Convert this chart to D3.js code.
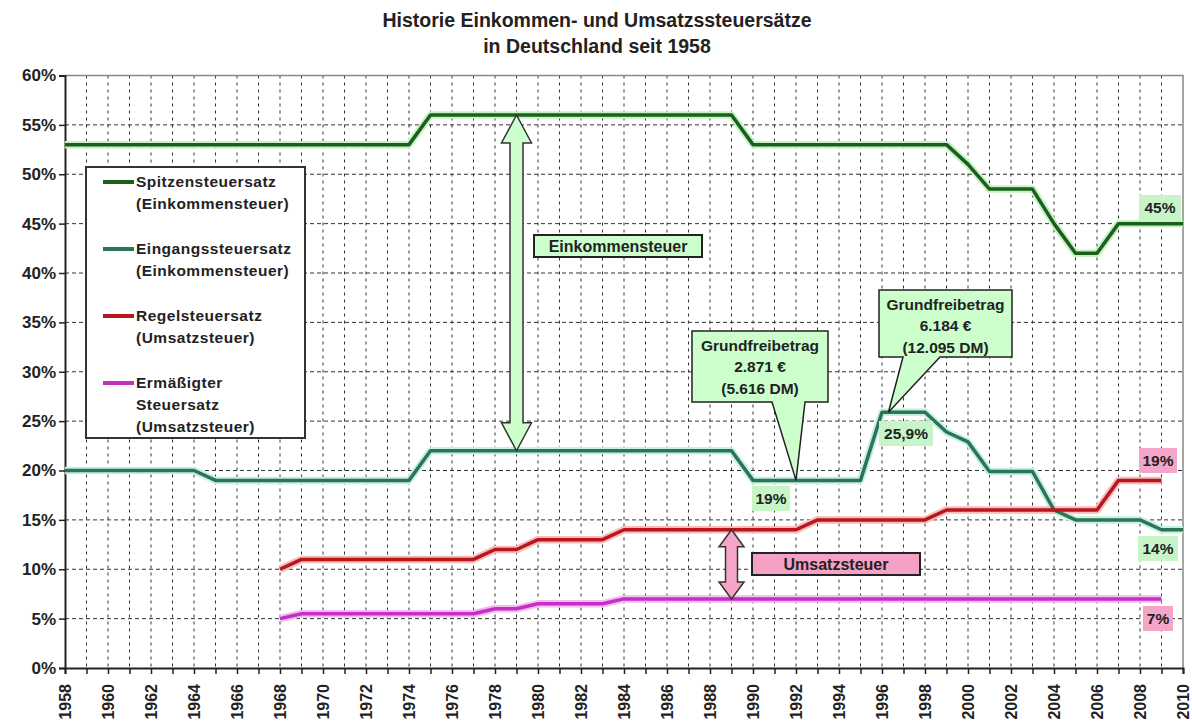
<!DOCTYPE html>
<html>
<head>
<meta charset="utf-8">
<script src="https://cdn.jsdelivr.net/npm/d3@7"></script>
<style>
  body { margin: 0; background: #fff; }
  svg { display: block; font-family: "Liberation Sans", Arial, sans-serif; }
</style>
</head>
<body>
<svg id="chart" width="1192" height="724"></svg>
<script>
// years 1958..2010
var years = [1958,1959,1960,1961,1962,1963,1964,1965,1966,1967,
             1968,1969,1970,1971,1972,1973,1974,1975,1976,1977,
             1978,1979,1980,1981,1982,1983,1984,1985,1986,1987,
             1988,1989,1990,1991,1992,1993,1994,1995,1996,1997,
             1998,1999,2000,2001,2002,2003,2004,2005,2006,2007,
             2008,2009,2010];

var spitzen = [53,53,53,53,53,53,53,53,53,53,
               53,53,53,53,53,53,53,56,56,56,
               56,56,56,56,56,56,56,56,56,56,
               56,56,53,53,53,53,53,53,53,53,
               53,53,51,48.5,48.5,48.5,45,42,42,45,
               45,45,45];

var eingang = [20,20,20,20,20,20,20,19,19,19,
               19,19,19,19,19,19,19,22,22,22,
               22,22,22,22,22,22,22,22,22,22,
               22,22,19,19,19,19,19,19,25.9,25.9,
               25.9,23.9,22.9,19.9,19.9,19.9,16,15,15,15,
               15,14,14];

var regel = [null,null,null,null,null,null,null,null,null,null,
             10,11,11,11,11,11,11,11,11,11,
             12,12,13,13,13,13,14,14,14,14,
             14,14,14,14,14,15,15,15,15,15,
             15,16,16,16,16,16,16,16,16,19,
             19,19,null];

var ermaessigt = [null,null,null,null,null,null,null,null,null,null,
                  5,5.5,5.5,5.5,5.5,5.5,5.5,5.5,5.5,5.5,
                  6,6,6.5,6.5,6.5,6.5,7,7,7,7,
                  7,7,7,7,7,7,7,7,7,7,
                  7,7,7,7,7,7,7,7,7,7,
                  7,7,null];

var yTicks = [0,5,10,15,20,25,30,35,40,45,50,55,60];

var seriesNames = [
  ["Spitzensteuersatz", "(Einkommensteuer)"],
  ["Eingangssteuersatz", "(Einkommensteuer)"],
  ["Regelsteuersatz", "(Umsatzsteuer)"],
  ["Ermäßigter", "Steuersatz", "(Umsatzsteuer)"]
];
var seriesColors = ["#1c5e1c", "#2d7356", "#b8161c", "#c42fc4"];
var glowColors   = ["#c4f2c4", "#c4f2e0", "#f6bcbc", "#f2bcf2"];

var svg = d3.select("#chart");
var plotL = 65, plotR = 1183, plotT = 75.5, plotB = 668;

var x = d3.scaleLinear().domain([1958, 2010]).range([plotL, plotR]);
var y = d3.scaleLinear().domain([0, 60]).range([plotB, plotT]);

// title
svg.append("text").attr("x", 597).attr("y", 27).attr("text-anchor", "middle")
  .style("font-size", "19.5px").style("font-weight", "bold").attr("fill", "#222")
  .text("Historie Einkommen- und Umsatzssteuersätze");
svg.append("text").attr("x", 597).attr("y", 53).attr("text-anchor", "middle")
  .style("font-size", "19.5px").style("font-weight", "bold").attr("fill", "#222")
  .text("in Deutschland seit 1958");

// grid
var grid = svg.append("g");
grid.selectAll(".vg").data(years.slice(1, -1)).enter().append("line")
  .attr("x1", function(d){ return x(d); }).attr("x2", function(d){ return x(d); })
  .attr("y1", plotT).attr("y2", plotB)
  .attr("stroke", "#333").attr("stroke-width", 1).attr("stroke-dasharray", "3,4");
grid.selectAll(".hg").data(yTicks.slice(1, -1)).enter().append("line")
  .attr("x1", plotL).attr("x2", plotR)
  .attr("y1", function(d){ return y(d); }).attr("y2", function(d){ return y(d); })
  .attr("stroke", "#333").attr("stroke-width", 1).attr("stroke-dasharray", "4,3");

// frame top / right
svg.append("path").attr("d", "M" + plotL + "," + plotT + "H" + plotR + "V" + plotB)
  .attr("fill", "none").attr("stroke", "#888").attr("stroke-width", 1.5);

// axes
var yAxis = d3.axisLeft(y).tickValues(yTicks).tickFormat(function(d){ return d + "%"; })
  .tickSize(6).tickPadding(3);
var gy = svg.append("g").attr("transform", "translate(" + plotL + ",0)").call(yAxis);
gy.selectAll("text").style("font-size", "17px").style("font-weight", "bold").attr("fill", "#222");

var xAxis = d3.axisBottom(x).tickValues(years)
  .tickFormat(function(d){ return d % 2 === 0 ? d : ""; }).tickSize(6);
var gx = svg.append("g").attr("transform", "translate(0," + plotB + ")").call(xAxis);
gx.selectAll("text").attr("transform", "rotate(-90)").attr("x", -16).attr("y", 0)
  .attr("dy", "0.35em").style("text-anchor", "end")
  .style("font-size", "16px").style("font-weight", "bold").attr("fill", "#222");

[gx, gy].forEach(function(g){
  g.select(".domain").attr("stroke", "#222").attr("stroke-width", 2);
  g.selectAll(".tick line").attr("stroke", "#222").attr("stroke-width", 1.5);
});

// lines
var allSeries = [spitzen, eingang, regel, ermaessigt];
var line = d3.line()
  .defined(function(d){ return d[1] !== null; })
  .x(function(d){ return x(d[0]); })
  .y(function(d){ return y(d[1]); });

allSeries.forEach(function(vals, i){
  var pts = years.map(function(yr, j){ return [yr, vals[j]]; });
  svg.append("path").datum(pts).attr("d", line).attr("fill", "none")
    .attr("stroke", glowColors[i]).attr("stroke-width", 7.5).attr("stroke-linejoin", "round");
});
allSeries.forEach(function(vals, i){
  var pts = years.map(function(yr, j){ return [yr, vals[j]]; });
  svg.append("path").datum(pts).attr("d", line).attr("fill", "none")
    .attr("stroke", seriesColors[i]).attr("stroke-width", 3.5).attr("stroke-linejoin", "round");
});

// legend
var lg = svg.append("g");
lg.append("rect").attr("x", 86).attr("y", 167).attr("width", 219).attr("height", 271)
  .attr("fill", "#fff").attr("stroke", "#333").attr("stroke-width", 2);
var legendY = [182, 249, 316, 383];
seriesNames.forEach(function(lines, i){
  lg.append("line").attr("x1", 103).attr("x2", 134)
    .attr("y1", legendY[i]).attr("y2", legendY[i])
    .attr("stroke", seriesColors[i]).attr("stroke-width", 4);
  lines.forEach(function(t, k){
    lg.append("text").attr("x", 136).attr("y", legendY[i] + k * 22).attr("dy", "0.35em")
      .style("font-size", "15.5px").style("font-weight", "bold").style("letter-spacing", "0.5px")
      .attr("fill", "#222").text(t);
  });
});

// double arrow helper
function doubleArrow(cx, y1, y2, headW, headL, shaftW, fill) {
  var hw = headW / 2, sw = shaftW / 2;
  var d = "M" + cx + "," + y1 +
    "L" + (cx + hw) + "," + (y1 + headL) +
    "H" + (cx + sw) + "V" + (y2 - headL) +
    "H" + (cx + hw) + "L" + cx + "," + y2 +
    "L" + (cx - hw) + "," + (y2 - headL) +
    "H" + (cx - sw) + "V" + (y1 + headL) +
    "H" + (cx - hw) + "Z";
  svg.append("path").attr("d", d).attr("fill", fill).attr("stroke", "#333").attr("stroke-width", 1.5);
}

function labelBox(x0, y0, w, h, fill, txt) {
  svg.append("rect").attr("x", x0).attr("y", y0).attr("width", w).attr("height", h)
    .attr("fill", fill).attr("stroke", "#222").attr("stroke-width", 2);
  svg.append("text").attr("x", x0 + w / 2).attr("y", y0 + h / 2).attr("dy", "0.36em")
    .attr("text-anchor", "middle").style("font-size", "16px").style("font-weight", "bold")
    .attr("fill", "#222").text(txt);
}

doubleArrow(x(1979), y(56), y(22), 30, 28, 13, "#ccffcc");
labelBox(534, 235, 168, 22, "#ccffcc", "Einkommensteuer");

doubleArrow(x(1989), y(14), y(7), 25, 17, 12, "#f5a6c8");
labelBox(752, 553, 168, 22, "#f5a0c4", "Umsatzsteuer");

// callouts
function callout(x0, y0, x1, y1, bl, br, tx, ty, lines) {
  var d = "M" + x0 + "," + y0 + "H" + x1 + "V" + y1 + "H" + br +
    "L" + tx + "," + ty + "L" + bl + "," + y1 + "H" + x0 + "Z";
  svg.append("path").attr("d", d).attr("fill", "#ccffcc").attr("stroke", "#222").attr("stroke-width", 1.5);
  var cx = (x0 + x1) / 2;
  lines.forEach(function(t, k){
    svg.append("text").attr("x", cx).attr("y", y0 + 14 + k * 21.5).attr("dy", "0.36em")
      .attr("text-anchor", "middle").style("font-size", "15.5px").style("font-weight", "bold")
      .attr("fill", "#222").text(t);
  });
}
callout(692, 331, 828, 402, 772, 805, x(1992), y(19), ["Grundfreibetrag", "2.871 €", "(5.616 DM)"]);
callout(879, 290, 1012, 357, 903, 940, x(1996.3), y(25.9), ["Grundfreibetrag", "6.184 €", "(12.095 DM)"]);

// value labels
var valueLabels = [
  { t: "19%",   cx: 771,  cy: 498, w: 38, fill: "#c8f5c8" },
  { t: "25,9%", cx: 906,  cy: 433, w: 54, fill: "#c8f5c8" },
  { t: "45%",   cx: 1160, cy: 207, w: 42, fill: "#c8f5c8" },
  { t: "19%",   cx: 1158, cy: 460, w: 38, fill: "#f5a6c8" },
  { t: "14%",   cx: 1158, cy: 548, w: 40, fill: "#c8f5c8" },
  { t: "7%",    cx: 1158, cy: 618, w: 30, fill: "#f5a6c8" }
];
valueLabels.forEach(function(v){
  svg.append("rect").attr("x", v.cx - v.w / 2).attr("y", v.cy - 12).attr("width", v.w).attr("height", 25)
    .attr("fill", v.fill);
  svg.append("text").attr("x", v.cx).attr("y", v.cy).attr("dy", "0.36em").attr("text-anchor", "middle")
    .style("font-size", "15.5px").style("font-weight", "bold").attr("fill", "#222").text(v.t);
});
</script>
</body>
</html>
